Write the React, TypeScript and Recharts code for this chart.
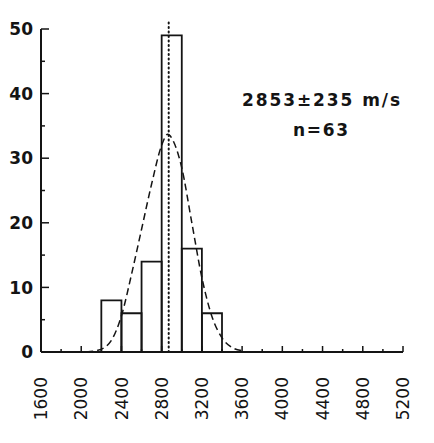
import {
  ComposedChart,
  Line,
  ReferenceArea,
  ReferenceLine,
  XAxis,
  YAxis,
} from "recharts";

const INK = "#141414";
const FONT = "DejaVu Sans, sans-serif";

// histogram bins (m/s) and share of samples (%)
const BIN_FROM = [2200, 2400, 2600, 2800, 3000, 3200];
const BIN_TO = [2400, 2600, 2800, 3000, 3200, 3400];
const PERCENT = [8, 6, 14, 49, 16, 6];

// fitted normal curve
const CURVE_X = [2050, 2150, 2250, 2300, 2400, 2500, 2600, 2700, 2800, 2860, 2920, 3000, 3100, 3200, 3300, 3400, 3500, 3600];
const CURVE_Y = [0, 0.2, 0.9, 1.8, 5.6, 12, 19, 26, 32, 33.7, 32.5, 28.5, 20, 11.5, 5.5, 2.2, 0.7, 0.2];

const MEAN_X = 2870;

const X_TICKS = [1600, 1800, 2000, 2200, 2400, 2600, 2800, 3000, 3200, 3400, 3600, 3800, 4000, 4200, 4400, 4600, 4800, 5000, 5200];
const Y_TICKS = [0, 5, 10, 15, 20, 25, 30, 35, 40, 45, 50];

const STAT_LABEL = "2853\u00b1235  m/s";
const N_LABEL = "n=63";

const curve = CURVE_X.map((x, i) => ({ x, y: CURVE_Y[i] }));

function XTick({ x, y, payload }: { x: number; y: number; payload: { value: number } }) {
  const v = payload.value;
  const major = v % 400 === 0;
  const ty = y + 25;
  return (
    <g>
      <line x1={x} x2={x} y1={y} y2={y - (major ? 6 : 3)} stroke={INK} strokeWidth={1.5} />
      {major && (
        <text
          x={x}
          y={ty}
          dy="0.36em"
          textAnchor="end"
          transform={`rotate(-90 ${x} ${ty})`}
          fill={INK}
          fontFamily={FONT}
          fontSize={17}
        >
          {v}
        </text>
      )}
    </g>
  );
}

function YTick({ x, y, payload }: { x: number; y: number; payload: { value: number } }) {
  const v = payload.value;
  const major = v % 10 === 0;
  return (
    <g>
      <line x1={x} x2={x + (major ? 8 : 4)} y1={y} y2={y} stroke={INK} strokeWidth={1.5} />
      {major && (
        <text
          x={x - 8}
          y={y}
          dy="0.36em"
          textAnchor="end"
          fill={INK}
          fontFamily={FONT}
          fontWeight="bold"
          fontSize={17}
        >
          {v}
        </text>
      )}
    </g>
  );
}

export default function App() {
  return (
    <div style={{ position: "relative", width: 418, height: 427 }}>
      <ComposedChart
        width={418}
        height={427}
        data={curve}
        margin={{ top: 21, right: 23, bottom: 23, left: 0 }}
      >
        <XAxis
          dataKey="x"
          type="number"
          domain={[1600, 5200]}
          ticks={X_TICKS}
          interval={0}
          height={60}
          tickSize={0}
          tickMargin={0}
          tickLine={false}
          axisLine={{ stroke: INK, strokeWidth: 2 }}
          tick={XTick}
        />
        <YAxis
          type="number"
          domain={[0, 50]}
          ticks={Y_TICKS}
          interval={0}
          width={33}
          tickSize={0}
          tickMargin={0}
          tickLine={false}
          axisLine={{ stroke: INK, strokeWidth: 2 }}
          tick={YTick}
        />

        {PERCENT.map((p, i) => (
          <ReferenceArea
            key={i}
            x1={BIN_FROM[i]}
            x2={BIN_TO[i]}
            y1={0}
            y2={p}
            fill="none"
            fillOpacity={0}
            stroke={INK}
            strokeWidth={1.8}
            ifOverflow="visible"
          />
        ))}

        <ReferenceLine
          segment={[
            { x: MEAN_X, y: 0 },
            { x: MEAN_X, y: 51.4 },
          ]}
          stroke={INK}
          strokeWidth={2}
          strokeDasharray="1 3.5"
          strokeLinecap="round"
          ifOverflow="visible"
        />

        <Line
          type="monotone"
          dataKey="y"
          stroke={INK}
          strokeWidth={1.5}
          strokeDasharray="7 4"
          dot={false}
          isAnimationActive={false}
        />
      </ComposedChart>

      <svg
        width={418}
        height={427}
        style={{ position: "absolute", left: 0, top: 0, pointerEvents: "none" }}
      >
        <text x={234} y={98} textLength={158} lengthAdjust="spacing" fill={INK} fontFamily={FONT} fontWeight="bold" fontSize={17}>
          {STAT_LABEL}
        </text>
        <text x={285} y={128} textLength={55} lengthAdjust="spacing" fill={INK} fontFamily={FONT} fontWeight="bold" fontSize={17}>
          {N_LABEL}
        </text>
      </svg>
    </div>
  );
}
